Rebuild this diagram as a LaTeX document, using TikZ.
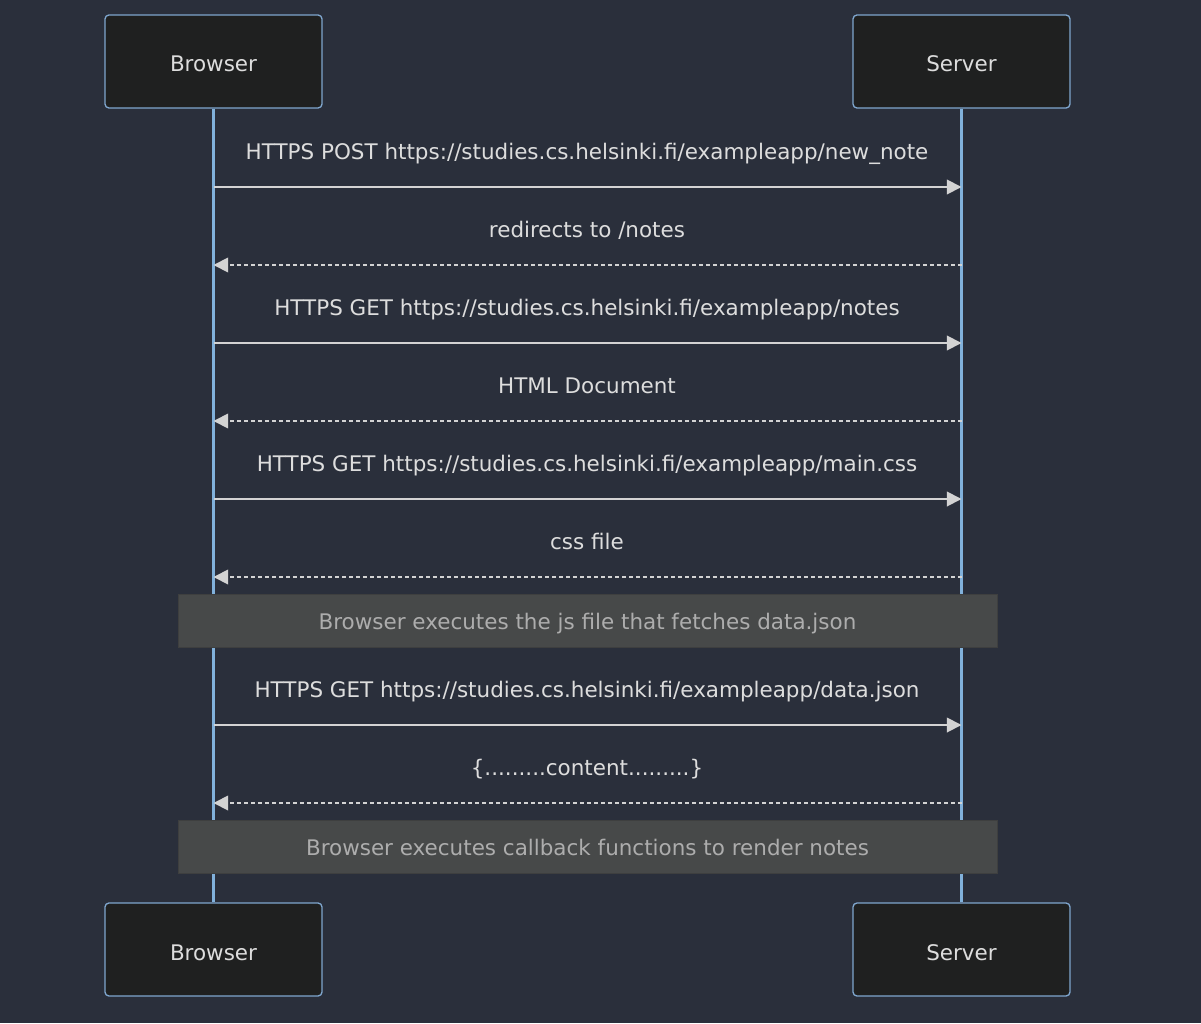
\documentclass[tikz,border=0pt]{standalone}
\usepackage{fontspec}
\setmainfont{DejaVu Sans}
\usetikzlibrary{arrows.meta}
\definecolor{bgcol}{HTML}{2A2F3B}
\definecolor{actorfill}{HTML}{1F2020}
\definecolor{actorline}{HTML}{7FA6CE}
\definecolor{lifecol}{HTML}{81B1DB}
\definecolor{msgline}{HTML}{D3D3D3}
\definecolor{msgtext}{HTML}{DDDDDD}
\definecolor{notefill}{HTML}{474949}
\definecolor{noteline}{HTML}{3E3F3F}
\definecolor{notetext}{HTML}{ADADAD}
\tikzstyle{actor} = [rectangle, rounded corners=3pt, minimum width=162.75pt, minimum height=69.75pt, text height=15.75pt, text depth=0pt, draw=actorline, fill=actorfill, text=msgtext, line width=1pt, font=\fontsize{16.1}{18}\selectfont]
\tikzstyle{note} = [rectangle, minimum width=614.25pt, minimum height=39.75pt, text height=12.75pt, text depth=0pt, draw=noteline, fill=notefill, text=notetext, line width=0.75pt, font=\fontsize{16.1}{18}\selectfont]
\tikzstyle{msg} = [anchor=base, text=msgtext, font=\fontsize{16.1}{18}\selectfont]
\tikzstyle{lifeline} = [draw=lifecol, line width=1.8pt]
\tikzstyle{arrow} = [draw=msgline, line width=1.4pt, -{Triangle[length=11pt,width=11pt]}]
\tikzstyle{reply} = [arrow, dash pattern=on 3pt off 2.25pt]

\begin{document}
\begin{tikzpicture}[x=0.75pt, y=-0.75pt]

% Background
\fill [bgcol] (0,0) rectangle (1201,1023);
\useasboundingbox (0,0) rectangle (1201,1023);

% Actors
\node (B1) [actor] at (213.5,61.5) {Browser};
\node (S1) [actor] at (961.5,61.5) {Server};
\node (B2) [actor] at (213.5,949.5) {Browser};
\node (S2) [actor] at (961.5,949.5) {Server};

% Lifelines
\draw [lifeline] (B1.south) -- (B2.north);
\draw [lifeline] (S1.south) -- (S2.north);

% Lifeline points
\coordinate (b1) at (213.5,187); \coordinate (s1) at (961.5,187);
\coordinate (b2) at (213.5,265); \coordinate (s2) at (961.5,265);
\coordinate (b3) at (213.5,343); \coordinate (s3) at (961.5,343);
\coordinate (b4) at (213.5,421); \coordinate (s4) at (961.5,421);
\coordinate (b5) at (213.5,499); \coordinate (s5) at (961.5,499);
\coordinate (b6) at (213.5,577); \coordinate (s6) at (961.5,577);
\coordinate (b7) at (213.5,725); \coordinate (s7) at (961.5,725);
\coordinate (b8) at (213.5,803); \coordinate (s8) at (961.5,803);

% Messages
\node (m1) [msg] at (587,159.5) {HTTPS POST https://studies.cs.helsinki.fi/exampleapp/new\_note};
\node (m2) [msg] at (587,237.5) {redirects to /notes};
\node (m3) [msg] at (587,315.5) {HTTPS GET https://studies.cs.helsinki.fi/exampleapp/notes};
\node (m4) [msg] at (587,393.5) {HTML Document};
\node (m5) [msg] at (587,471.5) {HTTPS GET https://studies.cs.helsinki.fi/exampleapp/main.css};
\node (m6) [msg] at (587,549.5) {css file};
\node (m7) [msg] at (587,697.5) {HTTPS GET https://studies.cs.helsinki.fi/exampleapp/data.json};
\node (m8) [msg] at (587,775.5) {\{.........content.........\}};

% Notes
\node (N1) [note] at (587.5,620.5) {Browser executes the js file that fetches data.json};
\node (N2) [note] at (587.5,846.5) {Browser executes callback functions to render notes};

% Connecting arrows
\draw [arrow] (b1) -- (s1);
\draw [reply] (s2) -- (b2);
\draw [arrow] (b3) -- (s3);
\draw [reply] (s4) -- (b4);
\draw [arrow] (b5) -- (s5);
\draw [reply] (s6) -- (b6);
\draw [arrow] (b7) -- (s7);
\draw [reply] (s8) -- (b8);

\end{tikzpicture}
\end{document}
